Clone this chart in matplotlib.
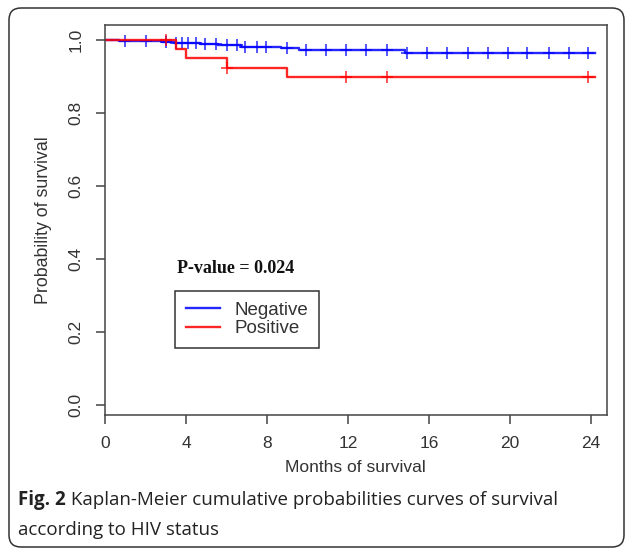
import numpy as np
import matplotlib
matplotlib.use("Agg")
import matplotlib.pyplot as plt
from matplotlib.patches import FancyBboxPatch

# ---- data ----
neg_times = [0, 0.7, 2.8, 3.4, 4.7, 5.6, 6.7, 8.7, 9.6, 14.8, 24.2]
neg_surv = [1.0, 0.998, 0.995, 0.993, 0.990, 0.986, 0.982, 0.977, 0.973, 0.964, 0.964]
neg_censor = [1.0, 2.0, 3.0, 3.5, 3.8, 4.1, 4.5, 4.95, 5.5, 6.0, 6.5, 6.9, 7.5, 7.95,
              9.0, 9.9, 10.9, 11.9, 12.9, 13.9, 14.9, 15.9, 16.9, 17.9, 18.9, 19.9,
              20.85, 21.9, 22.9, 23.85]
pos_times = [0, 3.5, 4.0, 6.0, 9.0, 24.2]
pos_surv = [1.0, 0.975, 0.95, 0.922, 0.898, 0.898]
pos_censor = [3.0, 6.0, 11.9, 13.9, 23.85]

series_labels = ["Negative", "Positive"]
x_ticks = [0, 4, 8, 12, 16, 20, 24]
y_ticks = [0.0, 0.2, 0.4, 0.6, 0.8, 1.0]
y_ticklabels = ["0.0", "0.2", "0.4", "0.6", "0.8", "1.0"]
p_text = "P-value = 0.024"
caption_bold = "Fig. 2"
caption_line1 = " Kaplan-Meier cumulative probabilities curves of survival"
caption_line2 = "according to HIV status"

BLUE = "#0000ff"
RED = "#ff0000"
TXT = "#333333"
AX = "#444444"

plt.rcParams['font.family'] = ['Liberation Sans', 'DejaVu Sans']

fig = plt.figure(figsize=(6.27, 5.5), dpi=100)
ax = fig.add_axes([105/627, 1-414.7/550, (606.7-105)/627, (414.7-25)/550])


def level_at(times, surv, t):
    idx = np.searchsorted(times, t, side='right') - 1
    return np.asarray(surv)[idx]


for times, surv, cens, col, lab in [
        (neg_times, neg_surv, neg_censor, BLUE, series_labels[0]),
        (pos_times, pos_surv, pos_censor, RED, series_labels[1])]:
    ax.step(times, surv, where='post', color=col, lw=1.7, alpha=0.85, label=lab)
    ax.plot(cens, level_at(times, surv, cens), linestyle='none', marker='+',
            markersize=8.5, mew=1.1, color=col, alpha=0.85)

ax.set_xlim(0, 24.77)
ax.set_ylim(-0.0266, 1.041)
ax.set_xticks(x_ticks)
ax.set_xticklabels([str(v) for v in x_ticks])
ax.set_yticks(y_ticks)
ax.set_yticklabels(y_ticklabels, rotation=90, va='center')

for s in ax.spines.values():
    s.set_color(AX)
    s.set_linewidth(1.1)
ax.tick_params(axis='both', colors=AX, labelcolor=TXT, labelsize=12.5,
               length=6.5, width=1.1)
ax.tick_params(axis='x', pad=9)
ax.tick_params(axis='y', pad=9)

ax.set_xlabel("Months of survival", fontsize=12.5, color=TXT)
ax.xaxis.set_label_coords(0.5, -0.115)
ax.set_ylabel("Probability of survival", fontsize=12.8, color=TXT)
ax.yaxis.set_label_coords(-0.106, 0.5)

ax.text(3.56, 0.3726, p_text, fontsize=13, fontweight='bold',
        family=['Liberation Serif', 'DejaVu Serif'], color='#111111',
        ha='left', va='center')

leg = ax.legend(loc='upper left', bbox_to_anchor=((175-105)/501.7, (414.7-290.7)/389.7),
                borderaxespad=0, fancybox=False, fontsize=13.5, handlelength=1.8,
                handletextpad=0.8, borderpad=0.58, labelspacing=0.08,
                edgecolor='#333333', framealpha=1)
leg.get_frame().set_linewidth(1.1)
for t in leg.get_texts():
    t.set_color(TXT)

# caption
cap_font = ['Open Sans', 'DejaVu Sans']
fig.canvas.draw()
r = fig.canvas.get_renderer()
tb = fig.text(18/627, 1-500/550, caption_bold, fontsize=13.5, fontweight='bold',
              family=cap_font, color='#222222', ha='left', va='center')
bb = tb.get_window_extent(renderer=r)
fig.text(bb.x1/fig.bbox.width, 1-500/550, caption_line1, fontsize=13.5,
         family=cap_font, color='#222222', ha='left', va='center')
fig.text(18/627, 1-530/550, caption_line2, fontsize=13.5,
         family=cap_font, color='#222222', ha='left', va='center')

frame = FancyBboxPatch((0.09, 0.03), 6.15, 5.39,
                       boxstyle="round,pad=0,rounding_size=0.12",
                       transform=fig.dpi_scale_trans, fill=False,
                       edgecolor='#333333', linewidth=1.1)
fig.patches.append(frame)

fig.savefig("out.png", dpi=100)
